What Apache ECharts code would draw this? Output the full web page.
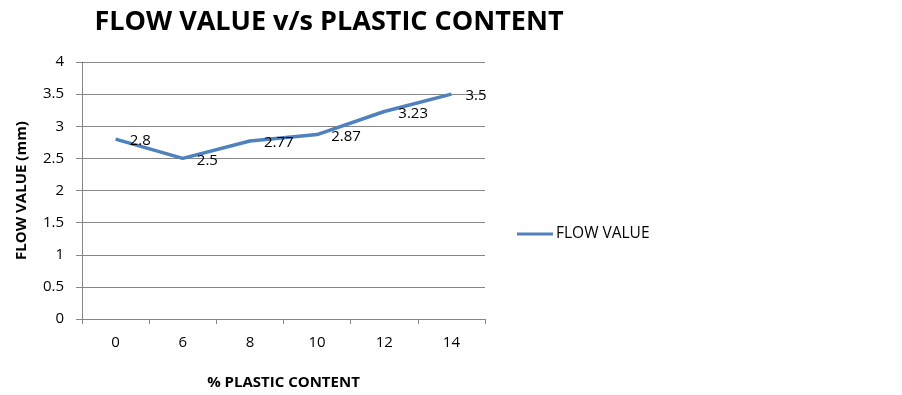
<!DOCTYPE html>
<html><head><meta charset="utf-8">
<script src="https://cdn.jsdelivr.net/npm/echarts@6/dist/echarts.min.js"></script>
<style>html,body{margin:0;padding:0;background:#fff}#c{width:902px;height:395px}</style>
</head><body><div id="c"></div>
<script>
const categories = ['0','6','8','10','12','14'];
const flowValues = [2.8, 2.5, 2.77, 2.87, 3.23, 3.5];
const seriesName = 'FLOW VALUE';
const FONT = '"Open Sans", "Liberation Sans", sans-serif';
const chart = echarts.init(document.getElementById('c'));
chart.setOption({
  animation: false,
  title: {
    text: 'FLOW VALUE v/s PLASTIC CONTENT',
    left: 324, top: 4, textAlign: 'center',
    textStyle: {fontFamily: FONT, fontSize: 27, fontWeight: 'bold', color: '#000'}
  },
  legend: {
    data: [seriesName], left: 512, top: 221, orient: 'vertical',
    itemWidth: 36, itemHeight: 18, itemGap: 4,
    icon: 'path://M0,7.5L36,7.5L36,10.5L0,10.5Z',
    itemStyle: {color: '#4F81BD', opacity: 1, borderWidth: 0},
    textStyle: {fontFamily: FONT, fontSize: 15.5, color: '#000', padding: [0,0,0,-2]}
  },
  grid: {left: 82, top: 62, width: 403, height: 259},
  xAxis: {
    type: 'category', data: categories, boundaryGap: true,
    name: '% PLASTIC CONTENT', nameLocation: 'middle', nameGap: 56,
    nameTextStyle: {fontFamily: FONT, fontSize: 15, fontWeight: 'bold', color: '#000'},
    axisLine: {lineStyle: {color: '#868686', width: 1}},
    axisTick: {show: true, length: 5, alignWithLabel: false, lineStyle: {color: '#868686'}},
    axisLabel: {fontFamily: FONT, fontSize: 15, color: '#000', margin: 16}
  },
  yAxis: {
    type: 'value', min: 0, max: 4, interval: 0.5,
    name: 'FLOW VALUE (mm)', nameLocation: 'middle', nameGap: 53, nameRotate: 90,
    nameTextStyle: {fontFamily: FONT, fontSize: 15, fontWeight: 'bold', color: '#000'},
    axisLine: {show: true, lineStyle: {color: '#868686', width: 1}},
    axisTick: {show: true, length: 6, lineStyle: {color: '#868686'}},
    splitLine: {lineStyle: {color: '#868686', width: 1}},
    axisLabel: {fontFamily: FONT, fontSize: 15, color: '#000', margin: 18}
  },
  series: [{
    name: seriesName, type: 'line', data: flowValues,
    symbol: 'circle', symbolSize: 0.1, showSymbol: true,
    lineStyle: {color: '#4F81BD', width: 3.5},
    itemStyle: {color: '#4F81BD'},
    label: {show: true, position: 'right', distance: 14, offset: [0, 2],
      fontFamily: FONT, fontSize: 15, color: '#000'}
  }]
});
</script></body></html>
